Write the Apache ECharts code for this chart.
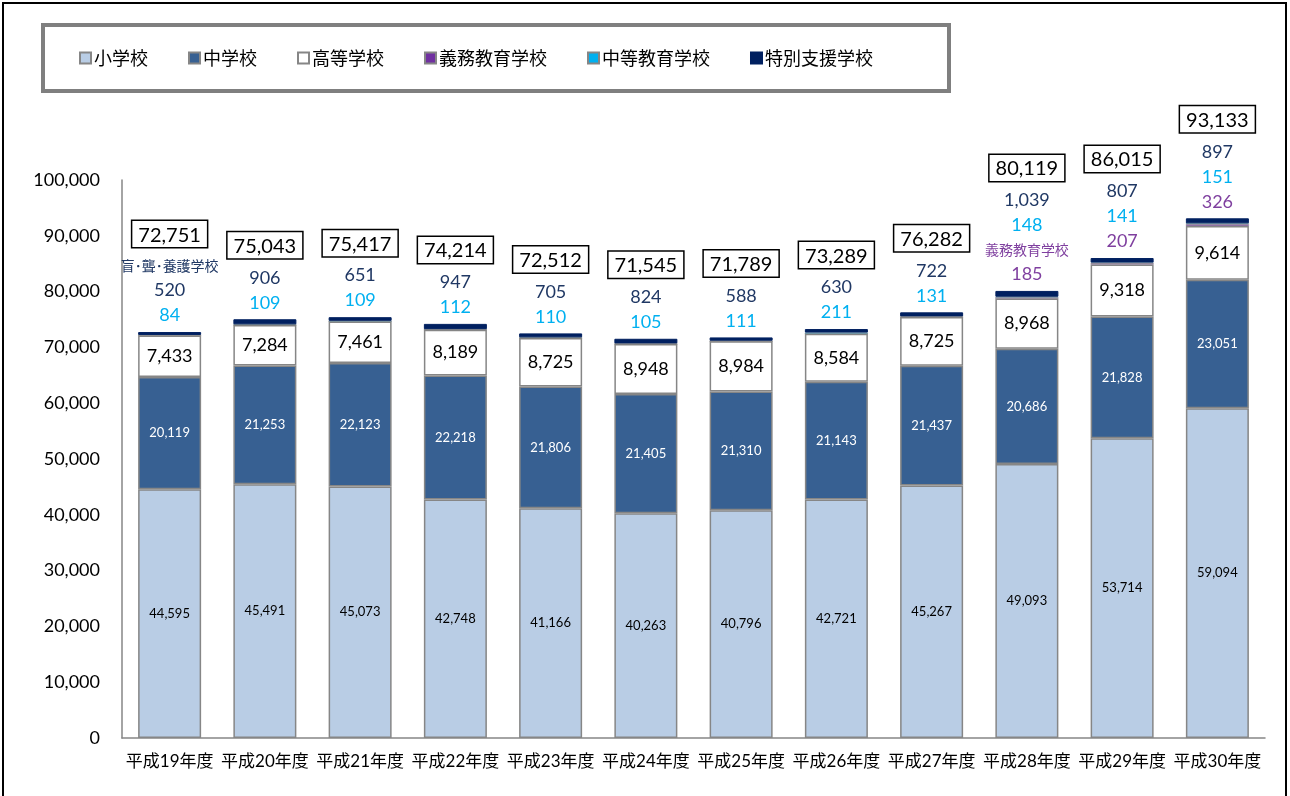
<!DOCTYPE html>
<html>
<head>
<meta charset="utf-8">
<script src="https://cdn.jsdelivr.net/npm/echarts@6/dist/echarts.min.js"></script>
<style>
  html, body { margin: 0; padding: 0; background: #fff; }
  #main { width: 1290px; height: 796px; }
</style>
</head>
<body>
<div id="main"></div>
<script>
  // 年度
  var years = ['平成19年度','平成20年度','平成21年度','平成22年度','平成23年度','平成24年度',
               '平成25年度','平成26年度','平成27年度','平成28年度','平成29年度','平成30年度'];
  // 学校種別ごとの値
  var shogakko   = [44595, 45491, 45073, 42748, 41166, 40263, 40796, 42721, 45267, 49093, 53714, 59094];
  var chugakko   = [20119, 21253, 22123, 22218, 21806, 21405, 21310, 21143, 21437, 20686, 21828, 23051];
  var koto       = [7433, 7284, 7461, 8189, 8725, 8948, 8984, 8584, 8725, 8968, 9318, 9614];
  var gimu       = [0, 0, 0, 0, 0, 0, 0, 0, 0, 185, 207, 326];
  var chuto      = [84, 109, 109, 112, 110, 105, 111, 211, 131, 148, 141, 151];
  var tokubetsu  = [520, 906, 651, 947, 705, 824, 588, 630, 722, 1039, 807, 897];
  var totals     = [72751, 75043, 75417, 74214, 72512, 71545, 71789, 73289, 76282, 80119, 86015, 93133];
  // 注記
  var tokubetsuNote = ['盲･聾･養護学校', '', '', '', '', '', '', '', '', '', '', ''];
  var gimuNote      = ['', '', '', '', '', '', '', '', '', '義務教育学校', '', ''];

  var numFont = "Lato, 'Noto Sans CJK JP'";
  var jpFont = "'Noto Sans CJK JP', sans-serif";
  var fmt = function (v) { return v.toLocaleString('en-US'); };
  var edge = '#868686';

  var myChart = echarts.init(document.getElementById('main'));

  var topLabel = function (p) {
    var i = p.dataIndex, lines = [];
    lines.push('{box|' + fmt(totals[i]) + '}');
    lines.push('{gap|}');
    if (tokubetsuNote[i]) lines.push('{note|' + tokubetsuNote[i] + '}');
    lines.push('{navy|' + fmt(tokubetsu[i]) + '}');
    lines.push('{cyan|' + fmt(chuto[i]) + '}');
    if (gimu[i] > 0) {
      if (gimuNote[i]) lines.push('{pnote|' + gimuNote[i] + '}');
      lines.push('{purple|' + fmt(gimu[i]) + '}');
    }
    return lines.join('\n');
  };

  var barBase = {
    type: 'bar',
    stack: 'total',
    barWidth: 63,
    emphasis: { disabled: true }
  };

  myChart.setOption({
    animation: false,
    textStyle: { fontFamily: numFont },
    graphic: [{
      type: 'rect',
      shape: { x: 3, y: 3, width: 1283, height: 810 },
      style: { fill: 'none', stroke: '#000', lineWidth: 2 },
      silent: true
    }],
    legend: {
      left: 43,
      top: 25,
      padding: [24, 76, 24, 36],
      backgroundColor: '#fff',
      borderColor: '#7f7f7f',
      borderWidth: 4,
      borderRadius: 0,
      icon: 'rect',
      itemWidth: 11,
      itemHeight: 11,
      itemGap: 40,
      textStyle: { fontFamily: jpFont, fontSize: 18, color: '#000', padding: [0, 0, 0, -2] },
      data: ['小学校', '中学校', '高等学校', '義務教育学校', '中等教育学校', '特別支援学校']
    },
    grid: { left: 122, right: 25, top: 180, bottom: 58 },
    xAxis: {
      type: 'category',
      data: years,
      axisLine: { lineStyle: { color: edge, width: 1.5 } },
      axisTick: { show: false },
      axisLabel: { interval: 0, fontFamily: numFont, fontSize: 17, color: '#000', margin: 15 }
    },
    yAxis: {
      type: 'value',
      min: 0,
      max: 100000,
      interval: 10000,
      splitLine: { show: false },
      axisLine: { show: true, lineStyle: { color: edge, width: 1.5 } },
      axisTick: { show: false },
      axisLabel: {
        fontFamily: numFont, fontSize: 18, color: '#000', margin: 22,
        formatter: function (v) { return fmt(v); }
      }
    },
    series: [
      Object.assign({}, barBase, {
        name: '小学校', data: shogakko,
        itemStyle: { color: '#b9cde5', borderColor: edge, borderWidth: 1.5 },
        label: { show: true, position: 'inside', fontSize: 13, color: '#000', formatter: function (p) { return fmt(p.value); } }
      }),
      Object.assign({}, barBase, {
        name: '中学校', data: chugakko,
        itemStyle: { color: '#376092', borderColor: edge, borderWidth: 1.5 },
        label: { show: true, position: 'inside', fontSize: 13, color: '#fff', formatter: function (p) { return fmt(p.value); } }
      }),
      Object.assign({}, barBase, {
        name: '高等学校', data: koto,
        itemStyle: { color: '#ffffff', borderColor: edge, borderWidth: 1.5 },
        label: { show: true, position: 'inside', fontSize: 18, color: '#000', formatter: function (p) { return fmt(p.value); } }
      }),
      Object.assign({}, barBase, {
        name: '義務教育学校', data: gimu,
        itemStyle: { color: '#7030a0', borderColor: edge, borderWidth: 0.5 }
      }),
      Object.assign({}, barBase, {
        name: '中等教育学校', data: chuto,
        itemStyle: { color: '#00b0f0', borderColor: edge, borderWidth: 0.5 }
      }),
      Object.assign({}, barBase, {
        name: '特別支援学校', data: tokubetsu,
        itemStyle: { color: '#002060', borderColor: '#002060', borderWidth: 1 },
        label: {
          show: true,
          position: 'top',
          distance: 4,
          align: 'center',
          formatter: topLabel,
          rich: {
            box: { fontFamily: numFont, fontSize: 20, color: '#000', borderColor: '#000', borderWidth: 1.5,
                   padding: [4, 6, 2, 6], lineHeight: 24, backgroundColor: '#fff' },
            gap: { fontSize: 6, lineHeight: 8, height: 8 },
            note: { fontFamily: jpFont, fontSize: 14, color: '#203864', lineHeight: 24 },
            navy: { fontFamily: numFont, fontSize: 18, color: '#203864', lineHeight: 25 },
            cyan: { fontFamily: numFont, fontSize: 18, color: '#00b0f0', lineHeight: 25 },
            pnote: { fontFamily: jpFont, fontSize: 14, color: '#7f3f9f', lineHeight: 24 },
            purple: { fontFamily: numFont, fontSize: 18, color: '#7f3f9f', lineHeight: 25 }
          }
        }
      })
    ]
  });
</script>
</body>
</html>
